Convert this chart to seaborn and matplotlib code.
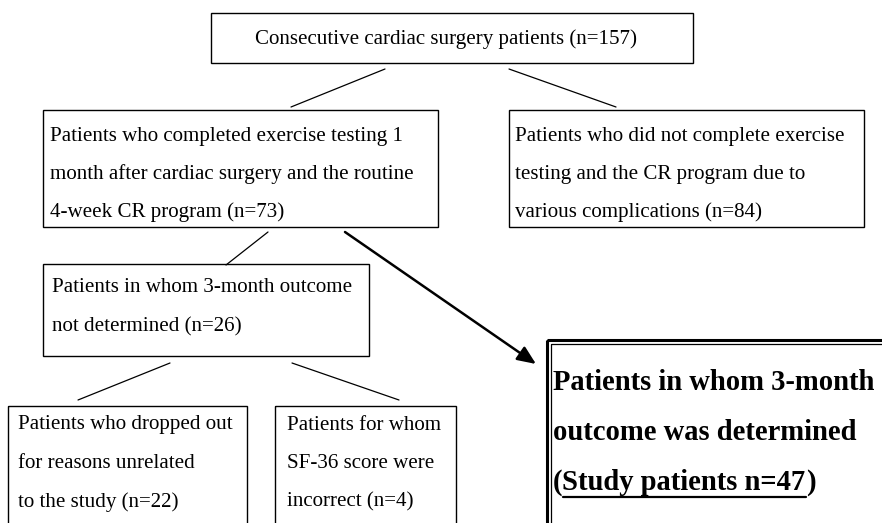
import matplotlib
matplotlib.use("Agg")
import matplotlib.pyplot as plt
import seaborn as sns
from matplotlib.patches import Rectangle, FancyArrowPatch

# box texts (one entry per line)
top_lines = ["Consecutive cardiac surgery patients (n=157)"]
completed_lines = ["Patients who completed exercise testing 1",
                   "month after cardiac surgery and the routine",
                   "4-week CR program (n=73)"]
not_completed_lines = ["Patients who did not complete exercise",
                       "testing and the CR program due to",
                       "various complications (n=84)"]
undetermined_lines = ["Patients in whom 3-month outcome",
                      "not determined (n=26)"]
dropped_lines = ["Patients who dropped out",
                 "for reasons unrelated",
                 "to the study (n=22)"]
sf36_lines = ["Patients for whom",
              "SF-36 score were",
              "incorrect (n=4)"]
study_lines = ["Patients in whom 3-month",
               "outcome was determined"]
study_last = ("(", "Study patients n=47", ")")

sns.set_theme(style="white")
plt.rcParams['font.family'] = ['Liberation Serif', 'DejaVu Serif']
plt.rcParams['text.color'] = 'black'

fig = plt.figure(figsize=(8.82, 5.23), dpi=100)
ax = fig.add_axes([0, 0, 1, 1])
ax.set_xlim(0, 882)
ax.set_ylim(523, 0)
ax.axis("off")

FS = 15.1
BFS = 20.6


def box(x0, y0, x1, y1, lw=1.0):
    ax.add_patch(Rectangle((x0, y0), x1 - x0, y1 - y0, fill=False,
                           edgecolor="black", linewidth=lw, clip_on=False))


def lines_text(x, ys, lines, **kw):
    for y, s in zip(ys, lines):
        ax.text(x, y, s, fontsize=FS, va="center", ha="left", color="black", **kw)


def seg(p, q, lw=0.9):
    ax.plot([p[0], q[0]], [p[1], q[1]], color="black", linewidth=lw)


# top box
box(211, 13, 693, 63)
lines_text(255, [39], top_lines)
seg((385, 69), (291, 107))
seg((509, 69), (616, 107))

# second row
box(43, 110, 438, 227)
lines_text(50, [137, 174, 212], completed_lines)
box(509, 110, 864, 227)
lines_text(515, [137, 174, 212], not_completed_lines)

seg((268, 232), (226, 265))

# third row
box(43, 264, 369, 356)
lines_text(52, [288, 327], undetermined_lines)
seg((170, 363), (78, 400))
seg((292, 363), (399, 400))

# bottom boxes
box(8, 406, 247, 540)
lines_text(18, [425, 463, 502], dropped_lines)
box(275, 406, 456, 540)
lines_text(287, [425, 463, 502], sf36_lines)

# arrow to study box
ax.add_patch(FancyArrowPatch((345, 232), (536, 364), arrowstyle="-|>,head_length=0.7,head_width=0.3",
                             mutation_scale=16, color="black", linewidth=1.8,
                             shrinkA=0, shrinkB=0))

# study box (double border)
box(547, 340, 900, 560, lw=2.2)
box(551, 344, 896, 556, lw=0.9)
for y, s in zip([382, 432], study_lines):
    ax.text(553, y, s, fontsize=BFS, fontweight="bold", va="center", ha="left",
            color="black")

fig.canvas.draw()
r = fig.canvas.get_renderer()
x = 553
parts = []
for s in study_last:
    t = ax.text(x, 483, s, fontsize=BFS, fontweight="bold", va="center", ha="left",
                color="black")
    bb = t.get_window_extent(r).transformed(ax.transData.inverted())
    parts.append(bb)
    x = bb.x1
ax.plot([parts[1].x0, parts[1].x1], [497, 497], color="black", linewidth=1.6)

fig.savefig("out.png", dpi=100)
